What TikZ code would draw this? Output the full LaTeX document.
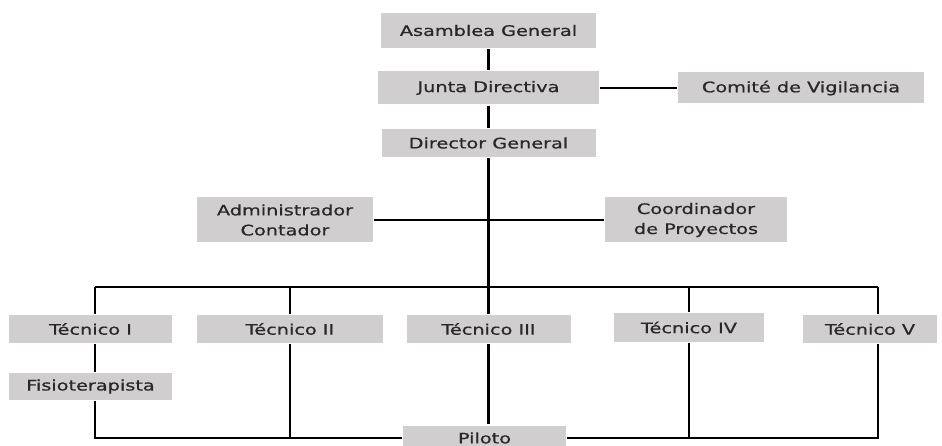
\documentclass[tikz,border=0pt]{standalone}
\usepackage{fontspec}
\usetikzlibrary{positioning,calc}
\newfontfamily\boxfont[FakeStretch=1.33,FakeBold=0.7]{DejaVu Sans}
\definecolor{boxgray}{RGB}{208,206,206}
\definecolor{textgray}{RGB}{40,40,40}

\begin{document}
\begin{tikzpicture}[x=1pt,y=-1pt,line width=2.2pt,
box/.style = {fill = boxgray, text = textgray, inner sep = 0pt, align = center, font = \boxfont\fontsize{14.5}{20}\selectfont},]
\useasboundingbox (0,0) rectangle (942,446);
\node (AG) at (488.5,30.5)[box,minimum width=215pt,minimum height=35pt] {Asamblea General};
\node (JD) at (488.5,88)[box,minimum width=221pt,minimum height=33pt] {Junta Directiva};
\node (CV) at (801,88)[box,minimum width=246pt,minimum height=31pt] {Comité de Vigilancia};
\node (DG) at (488.5,143)[box,minimum width=214pt,minimum height=28pt] {Director General};
\node (AC) at (285,220)[box,minimum width=176pt,minimum height=45pt] {Administrador\\Contador};
\node (CP) at (696,220)[box,minimum width=182pt,minimum height=45pt] {Coordinador\\de Proyectos};
\node (T1) at (90.5,329)[box,minimum width=163pt,minimum height=28pt] {Técnico I};
\node (T2) at (290,329)[box,minimum width=186pt,minimum height=28pt] {Técnico II};
\node (T3) at (488.5,329)[box,minimum width=164pt,minimum height=28pt] {Técnico III};
\node (T4) at (689,327.5)[box,minimum width=150pt,minimum height=29pt] {Técnico IV};
\node (T5) at (870,329)[box,minimum width=134pt,minimum height=28pt] {Técnico V};
\node (F) at (90.5,386.5)[box,minimum width=163pt,minimum height=27pt] {Fisioterapista};
\node (P) at (484.5,438)[box,minimum width=163pt,minimum height=25pt] {Piloto};
\coordinate (b1) at (95,287);
\coordinate (b5) at (878,287);
\coordinate (p1) at (95,438);
\coordinate (p5) at (878,438);
\draw (AG)--(JD);
\draw (JD)--(DG);
\draw (JD)--(CV);
\draw (DG)--(T3);
\draw (AC)--(CP);
\draw (b1)--(b5);
\draw (b1)--(b1 |- T1.north);
\draw (T2 |- b1)--(T2);
\draw (T4 |- b1)--(T4);
\draw (b5)--(b5 |- T5.north);
\draw (T1.south -| b1)--(F.north -| b1);
\draw (F.south -| b1)--(p1)--(P);
\draw (P)--(p5)--(b5 |- T5.south);
\draw (T2)--(T2 |- p1);
\draw (T3)--(T3 |- P.north);
\draw (T4)--(T4 |- p5);
\end{tikzpicture}
\end{document}
